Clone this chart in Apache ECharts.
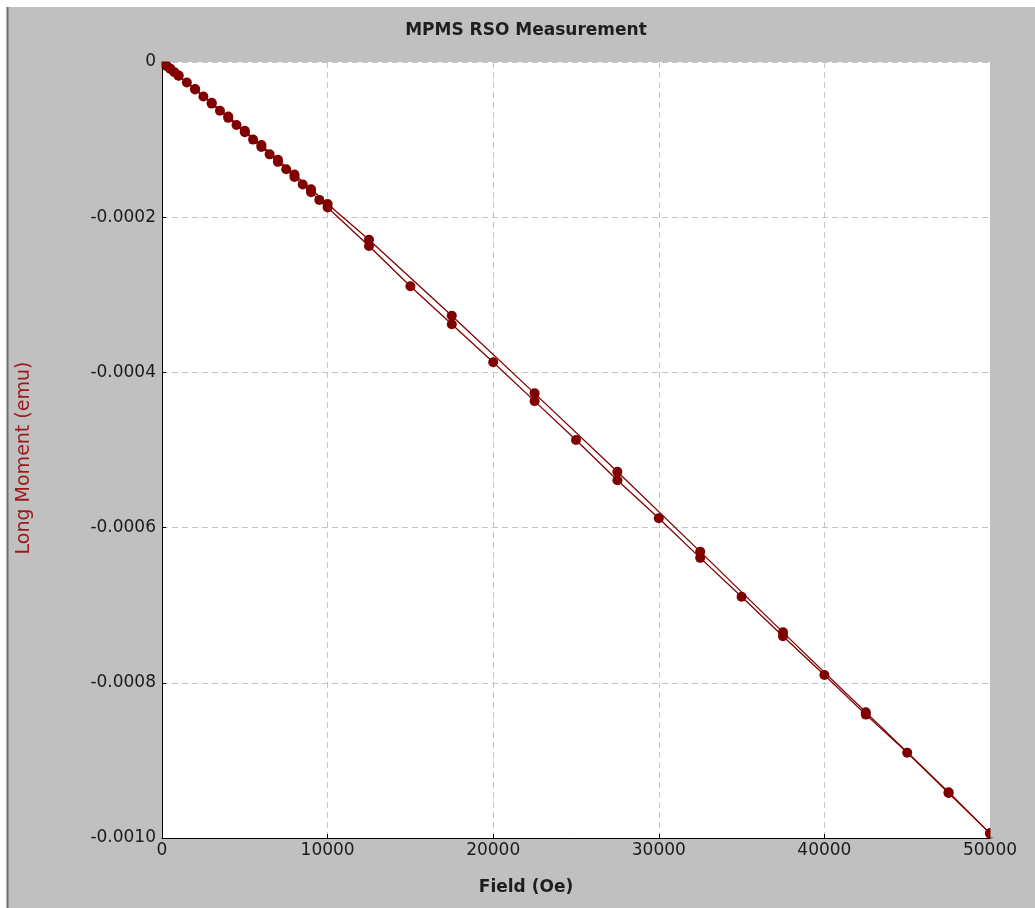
<!DOCTYPE html>
<html>
<head>
<meta charset="utf-8">
<script src="https://cdn.jsdelivr.net/npm/echarts@6/dist/echarts.min.js"></script>
<style>
html,body{margin:0;padding:0;background:#fff;}
#chart{width:1035px;height:908px;}
</style>
</head>
<body>
<div id="chart"></div>
<script>
// Increasing-field sweep (lower branch)
const fieldUp = [0,100,200,300,500,750,1000,1500,2000,2500,3000,3500,4000,4500,5000,5500,6000,6500,7000,7500,8000,8500,9000,9500,10000,
  12500,15000,17500,20000,22500,25000,27500,30000,32500,35000,37500,40000,42500,45000,47500,50000];
const momentUp = [0,-1.8e-6,-3.5e-6,-5.3e-6,-8.8e-6,-1.32e-5,-1.76e-5,-2.65e-5,-3.55e-5,-4.45e-5,-5.36e-5,-6.28e-5,-7.20e-5,-8.13e-5,-9.06e-5,-1.000e-4,-1.095e-4,-1.190e-4,-1.287e-4,-1.383e-4,-1.481e-4,-1.579e-4,-1.677e-4,-1.777e-4,-1.876e-4,
  -2.37e-4,-2.89e-4,-3.38e-4,-3.87e-4,-4.37e-4,-4.87e-4,-5.39e-4,-5.88e-4,-6.39e-4,-6.89e-4,-7.40e-4,-7.90e-4,-8.41e-4,-8.90e-4,-9.42e-4,-9.94e-4];
// Decreasing-field sweep (upper branch)
const fieldDown = [50000,47500,42500,37500,32500,27500,22500,17500,12500,10000,9000,8000,7000,6000,5000,4000,3000,2000,1000,500,0];
const momentDown = [-9.94e-4,-9.41e-4,-8.38e-4,-7.35e-4,-6.31e-4,-5.28e-4,-4.27e-4,-3.27e-4,-2.29e-4,-1.83e-4,-1.64e-4,-1.45e-4,-1.26e-4,-1.07e-4,-8.85e-5,-7.03e-5,-5.24e-5,-3.48e-5,-1.73e-5,-8.7e-6,-2e-7];

const xTicks = {min:0, max:50000, interval:10000};
const yTicks = {min:-0.001, max:0, interval:0.0002};

const titleText = 'MPMS RSO Measurement';
const xName = 'Field (Oe)';
const yName = 'Long Moment (emu)';

const FONT = '"DejaVu Sans", Verdana, sans-serif';
const RED = '#800000';
const BG = '#c0c0c0';

function pairs(xs, ys){ return xs.map((x,i)=>[x, ys[i]]); }

const chart = echarts.init(document.getElementById('chart'), null, {renderer:'canvas'});
chart.setOption({
  animation:false,
  backgroundColor:'#ffffff',
  graphic:[
    {type:'rect', z:-10, shape:{x:8, y:7, width:1027, height:901}, style:{fill:BG}},
    {type:'line', z:-9, shape:{x1:7.5, y1:7, x2:7.5, y2:908}, style:{stroke:'#6f6f6f', lineWidth:2}},
    // cover parts of markers that fall outside the plot area (the reference clips them)
    {type:'rect', z:100, shape:{x:990.5, y:820, width:12, height:17.5}, style:{fill:BG}},
    {type:'rect', z:100, shape:{x:156.5, y:52, width:5, height:17}, style:{fill:BG}},
    {type:'rect', z:100, shape:{x:156.5, y:52, width:24, height:9.5}, style:{fill:BG}},
    {type:'text', x:526, y:31, style:{text:titleText, font:'bold 17px '+FONT, fill:'#1e1e1e', align:'center', verticalAlign:'middle'}},
    {type:'text', x:526, y:888, style:{text:xName, font:'bold 17px '+FONT, fill:'#1e1e1e', align:'center', verticalAlign:'middle'}},
    {type:'text', x:24, y:458, rotation:Math.PI/2, style:{text:yName, font:'19px '+FONT, fill:'#9a1a1a', align:'center', verticalAlign:'middle'}}
  ],
  grid:{left:162, right:45, top:62, bottom:70, show:true, backgroundColor:'#ffffff', borderWidth:0},
  xAxis:{
    type:'value', min:xTicks.min, max:xTicks.max, interval:xTicks.interval,
    axisLine:{show:true, onZero:false, lineStyle:{color:'#000', width:1}},
    axisTick:{show:true, inside:true, length:4, lineStyle:{color:'#000'}},
    axisLabel:{color:'#1a1a1a', fontFamily:FONT, fontSize:17, margin:4, formatter:v=>String(v)},
    splitLine:{show:true, showMinLine:false, showMaxLine:false, lineStyle:{color:'#c4c4c4', type:[6,4], width:1}}
  },
  yAxis:{
    type:'value', min:yTicks.min, max:yTicks.max, interval:yTicks.interval,
    axisLine:{show:true, onZero:false, lineStyle:{color:'#000', width:1}},
    axisTick:{show:true, inside:true, length:4, lineStyle:{color:'#000'}},
    axisLabel:{color:'#1a1a1a', fontFamily:FONT, fontSize:17, margin:6, formatter:v=> Math.abs(v)<1e-12 ? '0' : v.toFixed(4)},
    splitLine:{show:true, showMinLine:false, showMaxLine:true, lineStyle:{color:'#c4c4c4', type:[6,4], width:1}}
  },
  series:[
    {type:'line', name:'up', data:pairs(fieldUp, momentUp), symbol:'circle', symbolSize:10, showAllSymbol:true,
     itemStyle:{color:RED}, lineStyle:{color:RED, width:1.3}, clip:true},
    {type:'line', name:'down', data:pairs(fieldDown, momentDown), symbol:'circle', symbolSize:10, showAllSymbol:true,
     itemStyle:{color:RED}, lineStyle:{color:RED, width:1.3}, clip:true}
  ]
});
</script>
</body>
</html>
